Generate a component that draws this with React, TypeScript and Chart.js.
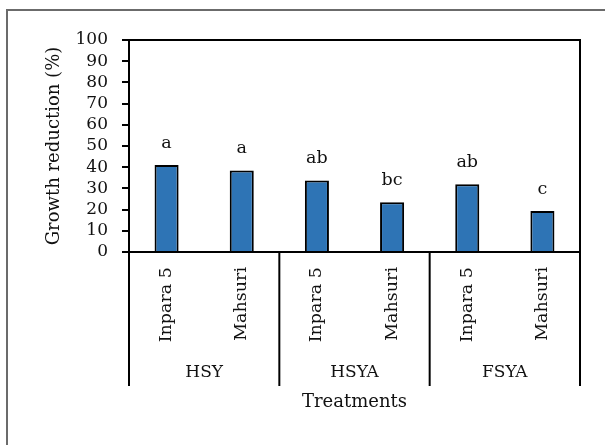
import React, { useEffect, useRef } from 'react';
import { Chart, registerables } from 'chart.js';

Chart.register(...registerables);

const categories = ['Inpara 5', 'Mahsuri', 'Inpara 5', 'Mahsuri', 'Inpara 5', 'Mahsuri'];
const groups = ['HSY', 'HSYA', 'FSYA'];
const values = [41, 38.5, 33.7, 23.5, 32, 19.3];
const letters = ['a', 'a', 'ab', 'bc', 'ab', 'c'];
const yMin = 0;
const yMax = 100;
const yStep = 10;

const FONT = "'DejaVu Serif', serif";
const TEXT = '#111111';

const decor = {
  id: 'decor',
  beforeDraw(chart: any) {
    const ctx = chart.ctx;
    ctx.save();
    ctx.strokeStyle = '#6b6b6b';
    ctx.lineWidth = 2;
    ctx.beginPath();
    ctx.moveTo(7, chart.height + 5);
    ctx.lineTo(7, 10);
    ctx.lineTo(chart.width + 5, 10);
    ctx.stroke();
    ctx.restore();
  },
  afterDatasetsDraw(chart: any) {
    const ctx = chart.ctx;
    const meta = chart.getDatasetMeta(0);
    ctx.save();
    ctx.fillStyle = TEXT;
    ctx.font = `17.5px ${FONT}`;
    ctx.textAlign = 'center';
    ctx.textBaseline = 'middle';
    meta.data.forEach((bar: any, i: number) => {
      ctx.fillText(letters[i], bar.x, bar.y - 22);
    });
    ctx.restore();
  },
  afterDraw(chart: any) {
    const { ctx, chartArea: a } = chart;
    const xs = chart.scales.x;
    ctx.save();
    ctx.strokeStyle = '#000';
    ctx.lineWidth = 2;
    ctx.strokeRect(a.left, a.top, a.right - a.left, a.bottom - a.top);
    const step = xs.getPixelForValue(1) - xs.getPixelForValue(0);
    const sepBottom = a.bottom + 134;
    for (let g = 0; g <= groups.length; g++) {
      const x = xs.getPixelForValue(g * 2) - step / 2;
      ctx.beginPath();
      ctx.moveTo(x, a.bottom);
      ctx.lineTo(x, sepBottom);
      ctx.stroke();
    }
    ctx.fillStyle = TEXT;
    ctx.font = `17px ${FONT}`;
    ctx.textAlign = 'center';
    ctx.textBaseline = 'middle';
    groups.forEach((g, i) => {
      const x = (xs.getPixelForValue(i * 2) + xs.getPixelForValue(i * 2 + 1)) / 2;
      ctx.fillText(g, x, a.bottom + 121);
    });
    ctx.restore();
  },
};

export default function App() {
  const ref = useRef<HTMLCanvasElement | null>(null);
  useEffect(() => {
    document.body.style.margin = '0';
    document.body.style.overflow = 'hidden';
    if (!ref.current) return;
    const chart = new Chart(ref.current, {
      type: 'bar',
      data: {
        labels: categories,
        datasets: [
          {
            data: values,
            backgroundColor: '#2E74B5',
            borderColor: '#000000',
            borderWidth: 2,
            categoryPercentage: 1,
            barPercentage: 0.32,
          },
        ],
      },
      options: {
        animation: false,
        responsive: true,
        maintainAspectRatio: false,
        layout: { padding: { top: 40, right: 25, left: 0, bottom: 0 } },
        plugins: { legend: { display: false }, tooltip: { enabled: false } },
        scales: {
          x: {
            grid: { drawOnChartArea: false, drawTicks: false },
            border: { display: true, color: '#000', width: 2 },
            ticks: {
              minRotation: 90,
              maxRotation: 90,
              autoSkip: false,
              padding: 15,
              color: TEXT,
              font: { family: FONT, size: 17.5 },
            },
            title: {
              display: true,
              text: 'Treatments',
              color: TEXT,
              font: { family: FONT, size: 18 },
              padding: { top: 0, bottom: 32 },
            },
            afterFit(scale: any) {
              scale.height = 193;
            },
          },
          y: {
            min: yMin,
            max: yMax,
            grid: { drawOnChartArea: false, drawTicks: true, tickLength: 7, color: '#000', lineWidth: 2 },
            border: { display: true, color: '#000', width: 2 },
            ticks: {
              stepSize: yStep,
              autoSkip: false,
              padding: 14,
              color: TEXT,
              font: { family: FONT, size: 17 },
            },
            title: {
              display: true,
              text: 'Growth reduction (%)',
              color: TEXT,
              font: { family: FONT, size: 18 },
              padding: { top: 44, bottom: 0 },
            },
            afterFit(scale: any) {
              scale.width = 129;
            },
          },
        },
      },
      plugins: [decor],
    });
    return () => chart.destroy();
  }, []);
  return (
    <div style={{ width: 605, height: 445, position: 'relative' }}>
      <canvas ref={ref} />
    </div>
  );
}
